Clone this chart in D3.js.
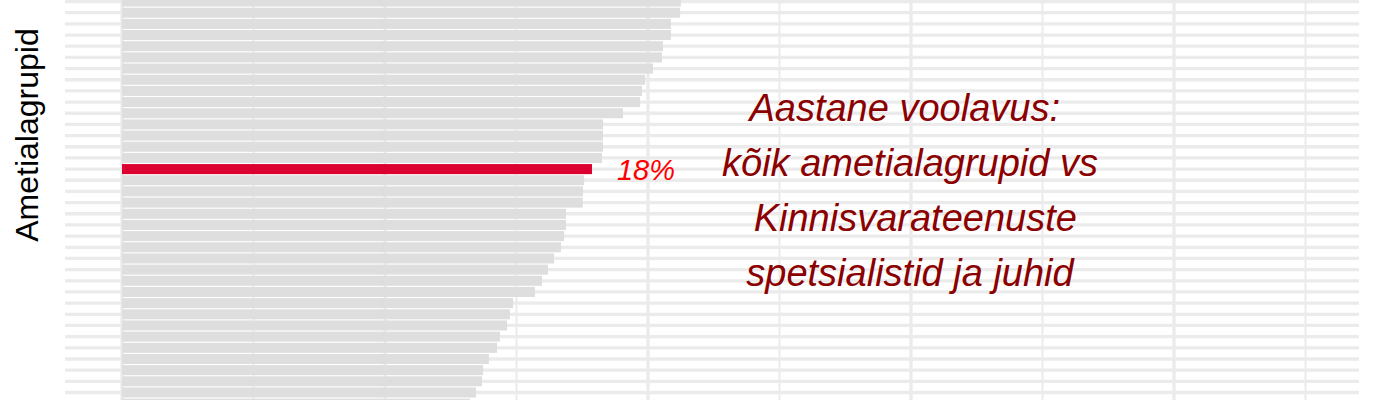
<!DOCTYPE html>
<html>
<head>
<meta charset="utf-8">
<script src="https://cdn.jsdelivr.net/npm/d3@7"></script>
<style>
  html, body { margin: 0; padding: 0; background: #ffffff; }
  svg { display: block; }
</style>
</head>
<body>
<script>
// ---- data ----
const categories = d3.range(1, 38).map(i => "Ametialagrupp " + i);
const values = [
  0.2125, 0.2122, 0.2087, 0.2087, 0.2057, 0.2053, 0.2019, 0.1989, 0.1977, 0.1970,
  0.1905, 0.1829, 0.1829, 0.1829, 0.1825, 0.1787, 0.1757, 0.1753, 0.1752, 0.1688,
  0.1688, 0.1681, 0.1669, 0.1643, 0.1620, 0.1597, 0.1570, 0.1487, 0.1475, 0.1464,
  0.1437, 0.1426, 0.1395, 0.1373, 0.1369, 0.1346, 0.1323
];
const highlightIndex = 15;
const highlightLabel = "18%";
const titleLines = ["Aastane voolavus: ", "kõik ametialagrupid vs", " Kinnisvarateenuste", "spetsialistid ja juhid"];
const yAxisTitle = "Ametialagrupid";
const majorTicks = [0, 0.1, 0.2, 0.3, 0.4];
const minorTicks = [0.05, 0.15, 0.25, 0.35, 0.45];

// ---- layout ----
const W = 1400, H = 400;
const svg = d3.select("body").append("svg").attr("width", W).attr("height", H);

const x = d3.scaleLinear().domain([-0.02167, 0.47034]).range([65, 1359]);
const y = d3.scaleBand().domain(categories).range([-4.6, 409.8]).padding(0.1);

const grid = svg.append("g");
// horizontal gridlines at each category
grid.selectAll("line.h").data(categories).join("line")
  .attr("class", "h")
  .attr("x1", x.range()[0]).attr("x2", x.range()[1])
  .attr("y1", d => y(d) + y.bandwidth() / 2)
  .attr("y2", d => y(d) + y.bandwidth() / 2)
  .attr("stroke", "#EBEBEB").attr("stroke-width", 3.3);
// vertical minor gridlines
grid.selectAll("line.vmin").data(minorTicks).join("line")
  .attr("class", "vmin")
  .attr("x1", d => x(d)).attr("x2", d => x(d))
  .attr("y1", 0).attr("y2", H)
  .attr("stroke", "#EBEBEB").attr("stroke-width", 2);
// vertical major gridlines
grid.selectAll("line.vmaj").data(majorTicks).join("line")
  .attr("class", "vmaj")
  .attr("x1", d => x(d)).attr("x2", d => x(d))
  .attr("y1", 0).attr("y2", H)
  .attr("stroke", "#EBEBEB").attr("stroke-width", 3.3);

// bars
svg.append("g").selectAll("rect").data(values).join("rect")
  .attr("x", x(0))
  .attr("y", (d, i) => y(categories[i]))
  .attr("width", d => x(d) - x(0))
  .attr("height", y.bandwidth())
  .attr("fill", (d, i) => i === highlightIndex ? "#DC0030" : "#DEDEDE");

// highlight label
const hv = values[highlightIndex];
svg.append("text")
  .attr("x", x(hv) + 25)
  .attr("y", y(categories[highlightIndex]) + y.bandwidth() / 2 + 10.5)
  .attr("font-family", "Liberation Sans, Arial, sans-serif")
  .attr("font-style", "italic")
  .attr("font-size", 29)
  .attr("fill", "#FF0000")
  .text(highlightLabel);

// annotation title
const t = svg.append("text")
  .attr("font-family", "Liberation Sans, Arial, sans-serif")
  .attr("font-style", "italic")
  .attr("font-size", 38)
  .attr("fill", "#8B0000")
  .attr("text-anchor", "middle")
  .style("white-space", "pre");
titleLines.forEach((line, i) => {
  t.append("tspan")
    .attr("x", x(0.3) - 1)
    .attr("y", 121 + i * 55)
    .text(line);
});

// y axis title
svg.append("text")
  .attr("transform", "translate(38,135) rotate(-90)")
  .attr("text-anchor", "middle")
  .attr("font-family", "Liberation Sans, Arial, sans-serif")
  .attr("font-size", 32)
  .attr("fill", "#000000")
  .text(yAxisTitle);
</script>
</body>
</html>
